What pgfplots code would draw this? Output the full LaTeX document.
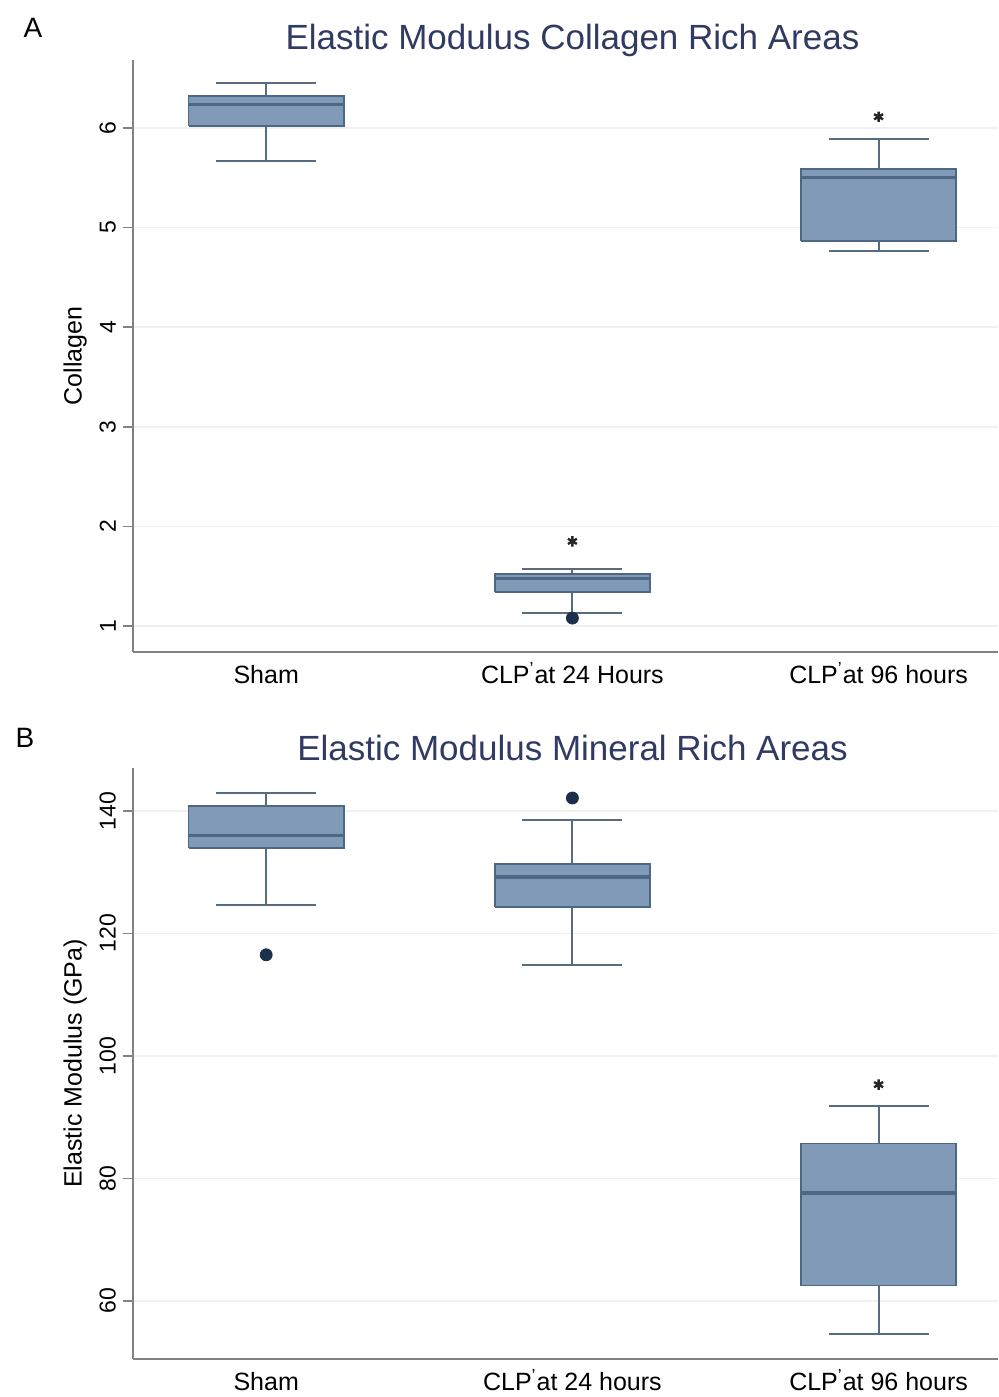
\documentclass[border=0pt]{standalone}
\usepackage{fontspec}
\setmainfont{Liberation Sans}
\usepackage{pgfplots}
\pgfplotsset{compat=1.18}
\definecolor{boxfill}{RGB}{128,154,183}
\definecolor{boxline}{RGB}{78,104,132}
\definecolor{whisk}{RGB}{88,108,128}
\definecolor{dotcol}{RGB}{28,48,76}
\definecolor{titlecol}{RGB}{48,58,98}
\definecolor{axcol}{RGB}{130,130,130}
\pgfplotsset{
 mystyle/.style={
  scale only axis, width=432.5pt, clip=false,
  xmin=0.565, xmax=3.39,
  axis x line*=bottom, axis y line*=left,
  axis line style={axcol, line width=1pt, -},
  xtick={1,2,3},
  x tick style={draw=none},
  y tick style={axcol, line width=0.8pt},
  tick align=outside, major tick length=5pt,
  ymajorgrids, major grid style={gray!12, line width=0.8pt},
  yticklabel style={rotate=90, anchor=south, font=\fontsize{11.5}{12}\selectfont},
  xticklabel style={font=\fontsize{12.5}{13}\selectfont, yshift=3pt, text height=10pt, text depth=3pt},
  /pgf/number format/assume math mode=true,
  title style={at={(0.5,1)}, anchor=center, yshift=4pt, xshift=3.5pt, font=\fontsize{17.5}{18}\selectfont, text=titlecol},
  ylabel style={at={(axis description cs:-0.067,0.5)}, anchor=center, font=\fontsize{12.5}{13}\selectfont},
 },
 wh/.style={draw=whisk, line width=1pt, mark=none, unbounded coords=jump},
 bx/.style={draw=boxline, fill=boxfill, line width=0.9pt, mark=none, line join=miter},
 md/.style={draw=boxline, line width=1.6pt, mark=none},
 outl/.style={only marks, mark=*, mark size=3pt, color=dotcol},
 star/.style={only marks, mark=asterisk, mark size=2.6pt, color=black!85, line width=1.2pt},
}
\begin{document}
\begin{tikzpicture}
\useasboundingbox (0,0) rectangle (499pt,698.5pt);
% Panel A
\begin{axis}[mystyle, at={(66.5pt,372.5pt)}, anchor=south west, height=296pt,
  ymin=0.74, ymax=6.68, ytick={1,2,3,4,5,6},
  xticklabels={Sham, CLP\textsuperscript{'}at 24 Hours, CLP\textsuperscript{'}at 96 hours},
  title={Elastic Modulus Collagen Rich Areas}, ylabel={Collagen}]
% Sham
\addplot[wh] coordinates {(1,5.67) (1,6.02) (nan,nan) (1,6.32) (1,6.45) (nan,nan) (0.8365,5.67) (1.1635,5.67) (nan,nan) (0.8365,6.45) (1.1635,6.45)};
\addplot[bx] coordinates {(0.7465,6.02) (1.2535,6.02) (1.2535,6.32) (0.7465,6.32) (0.7465,6.02)};
\addplot[md] coordinates {(0.7465,6.23) (1.2535,6.23)};
% CLP 24
\addplot[wh] coordinates {(2,1.13) (2,1.34) (nan,nan) (2,1.52) (2,1.57) (nan,nan) (1.8365,1.13) (2.1635,1.13) (nan,nan) (1.8365,1.57) (2.1635,1.57)};
\addplot[bx] coordinates {(1.7465,1.34) (2.2535,1.34) (2.2535,1.52) (1.7465,1.52) (1.7465,1.34)};
\addplot[md] coordinates {(1.7465,1.48) (2.2535,1.48)};
% CLP 96
\addplot[wh] coordinates {(3,4.76) (3,4.86) (nan,nan) (3,5.59) (3,5.89) (nan,nan) (2.8365,4.76) (3.1635,4.76) (nan,nan) (2.8365,5.89) (3.1635,5.89)};
\addplot[bx] coordinates {(2.7465,4.86) (3.2535,4.86) (3.2535,5.59) (2.7465,5.59) (2.7465,4.86)};
\addplot[md] coordinates {(2.7465,5.50) (3.2535,5.50)};
\addplot[outl] coordinates {(2,1.08)};
\addplot[star] coordinates {(2,1.85) (3,6.11)};
\node[font=\fontsize{14}{14}\selectfont, anchor=center] at (axis description cs:-0.1156,1.054) {A};
\end{axis}
% Panel B
\begin{axis}[mystyle, at={(66.5pt,19pt)}, anchor=south west, height=295.5pt,
  ymin=50.5, ymax=147, ytick={60,80,100,120,140},
  xticklabels={Sham, CLP\textsuperscript{'}at 24 hours, CLP\textsuperscript{'}at 96 hours},
  title={Elastic Modulus Mineral Rich Areas}, ylabel={Elastic Modulus (GPa)}]
% Sham
\addplot[wh] coordinates {(1,124.6) (1,133.9) (nan,nan) (1,140.8) (1,142.9) (nan,nan) (0.8365,124.6) (1.1635,124.6) (nan,nan) (0.8365,142.9) (1.1635,142.9)};
\addplot[bx] coordinates {(0.7465,133.9) (1.2535,133.9) (1.2535,140.8) (0.7465,140.8) (0.7465,133.9)};
\addplot[md] coordinates {(0.7465,136.0) (1.2535,136.0)};
% CLP 24
\addplot[wh] coordinates {(2,114.8) (2,124.3) (nan,nan) (2,131.3) (2,138.5) (nan,nan) (1.8365,114.8) (2.1635,114.8) (nan,nan) (1.8365,138.5) (2.1635,138.5)};
\addplot[bx] coordinates {(1.7465,124.3) (2.2535,124.3) (2.2535,131.3) (1.7465,131.3) (1.7465,124.3)};
\addplot[md] coordinates {(1.7465,129.2) (2.2535,129.2)};
% CLP 96
\addplot[wh] coordinates {(3,54.6) (3,62.5) (nan,nan) (3,85.7) (3,91.8) (nan,nan) (2.8365,54.6) (3.1635,54.6) (nan,nan) (2.8365,91.8) (3.1635,91.8)};
\addplot[bx] coordinates {(2.7465,62.5) (3.2535,62.5) (3.2535,85.7) (2.7465,85.7) (2.7465,62.5)};
\addplot[md] coordinates {(2.7465,77.6) (3.2535,77.6)};
\addplot[outl] coordinates {(1,116.5) (2,142.1)};
\addplot[star] coordinates {(3,95.3)};
\node[font=\fontsize{14}{14}\selectfont, anchor=center] at (axis description cs:-0.1249,1.0508) {B};
\end{axis}
\end{tikzpicture}
\end{document}
